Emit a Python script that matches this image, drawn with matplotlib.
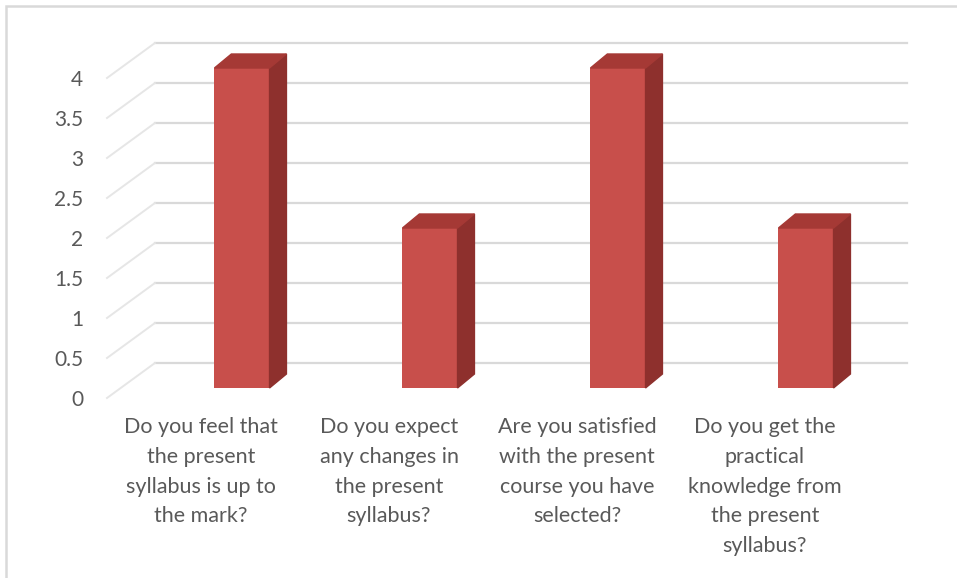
import matplotlib
matplotlib.use("Agg")
import matplotlib.pyplot as plt
from matplotlib.patches import Polygon, Rectangle

questions = [
    "Do you feel that\nthe present\nsyllabus is up to\nthe mark?",
    "Do you expect\nany changes in\nthe present\nsyllabus?",
    "Are you satisfied\nwith the present\ncourse you have\nselected?",
    "Do you get the\npractical\nknowledge from\nthe present\nsyllabus?",
]
responses = [4, 2, 4, 2]
y_ticks = [0, 0.5, 1, 1.5, 2, 2.5, 3, 3.5, 4]
y_tick_labels = ["0", "0.5", "1", "1.5", "2", "2.5", "3", "3.5", "4"]

plt.rcParams["font.family"] = ["Lato", "DejaVu Sans"]
TXT = "#595959"
GRID = "#d9d9d9"
FRONT, SIDE, TOP = "#c84f4b", "#8e302d", "#a53935"

# fake 3-D: back wall offset and bar placement, in data units
DX, DY = 0.255, 0.4375
SX, SY = 0.218, 0.125
BW = 0.293
DDX, DDY = 0.09, 0.175

W, H = 957, 578
fig = plt.figure(figsize=(W / 100, H / 100), dpi=100)
x0, x1, y0, y1 = -0.5, 3.8, 0.0, 4.6
left_px, bottom_px = 107, 398
ax = fig.add_axes([left_px / W, (H - bottom_px) / H,
                   (x1 - x0) * 188 / W, (y1 - y0) * 80 / H])
ax.set_xlim(x0, x1)
ax.set_ylim(y0, y1)
for s in ax.spines.values():
    s.set_visible(False)

# back wall gridlines and side-wall diagonals
n = len(questions)
for v in y_ticks:
    ax.plot([-0.5 + DX, n - 0.5 + DX], [v + DY, v + DY], color=GRID, lw=1.6,
            zorder=1, clip_on=False)
    ax.plot([-0.5, -0.5 + DX], [v, v + DY], color="#e6e6e6", lw=1.4,
            zorder=1, clip_on=False)

xs = list(range(n))
ax.bar([x + SX for x in xs], responses, bottom=SY, width=BW, color=FRONT,
       zorder=3, clip_on=False)
for x, v in zip(xs, responses):
    xl, xr = x + SX - BW / 2, x + SX + BW / 2
    top = v + SY
    ax.add_patch(Polygon([(xr, SY), (xr + DDX, SY + DDY), (xr + DDX, top + DDY), (xr, top)],
                         closed=True, color=SIDE, zorder=3, clip_on=False))
    ax.add_patch(Polygon([(xl, top), (xr, top), (xr + DDX, top + DDY), (xl + DDX, top + DDY)],
                         closed=True, color=TOP, zorder=3, clip_on=False))

ax.set_yticks(y_ticks)
ax.set_yticklabels(y_tick_labels, fontsize=15, color=TXT)
ax.set_xticks(xs)
ax.set_xticklabels(questions, fontsize=15.5, color=TXT, linespacing=1.6)
ax.tick_params(axis="y", length=0, pad=17)
ax.tick_params(axis="x", length=0, pad=14)

# chart area border (only top/left visible in the crop)
fig.patches.append(Rectangle((6 / W, -0.1), 1.2, (H - 6) / H + 0.1,
                             transform=fig.transFigure, fill=False,
                             edgecolor="#d9d9d9", lw=1.8))

fig.savefig("out.png", dpi=100)
